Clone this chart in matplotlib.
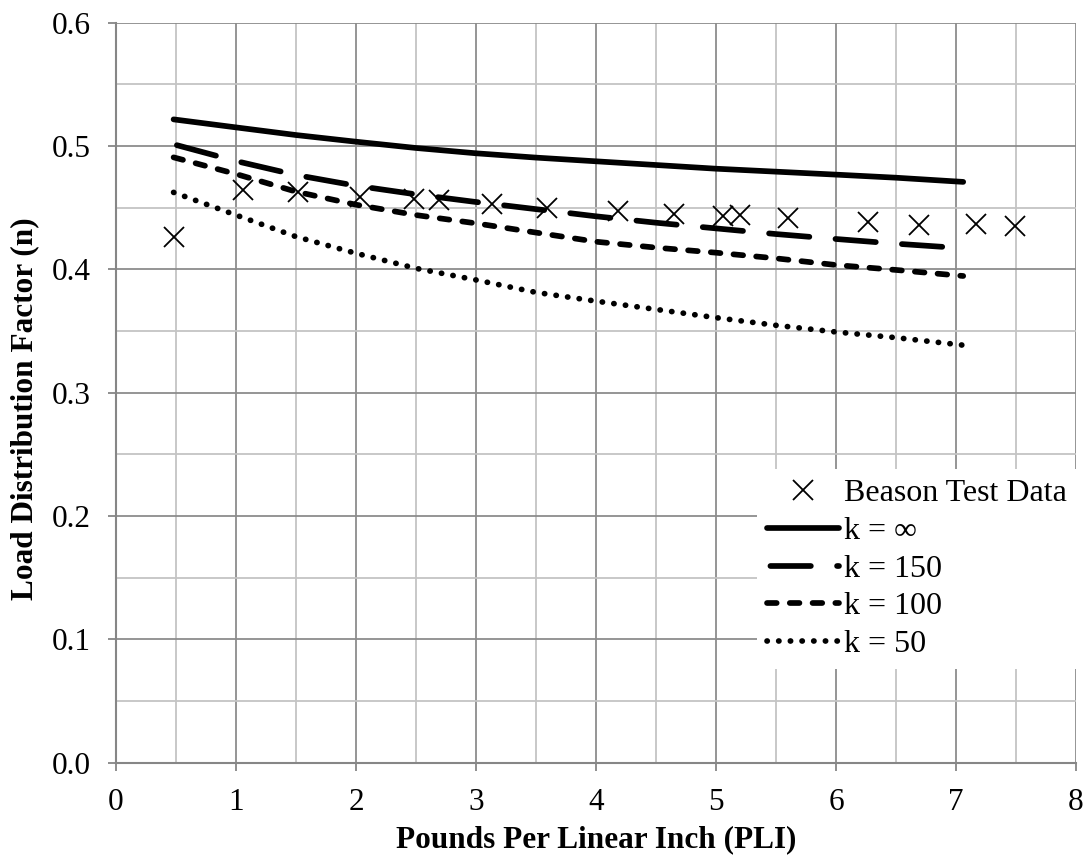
import matplotlib
matplotlib.use("Agg")
import matplotlib.pyplot as plt
from matplotlib.ticker import MultipleLocator

plt.rcParams['font.family'] = ['Liberation Serif', 'DejaVu Serif']

# Beason test data
test_pli = [0.48, 1.06, 1.52, 2.03, 2.48, 2.69, 3.13, 3.59, 4.18, 4.65,
            5.06, 5.20, 5.60, 6.27, 6.69, 7.17, 7.49]
test_n = [0.426, 0.464, 0.463, 0.459, 0.457, 0.456, 0.453, 0.450, 0.447,
          0.445, 0.443, 0.444, 0.442, 0.438, 0.436, 0.4365, 0.435]

# Model curves for different k values
pli = [0.48, 1.0, 1.5, 2.0, 2.5, 3.0, 3.5, 4.0, 4.5, 5.0, 5.5, 6.0, 6.5, 7.06]
n_k_inf = [0.5216, 0.5151, 0.5089, 0.5035, 0.4984, 0.4941, 0.4906, 0.4876,
           0.4846, 0.4816, 0.4792, 0.4768, 0.4743, 0.4709]
n_k150 = [0.5014, 0.4878, 0.4765, 0.4678, 0.4608, 0.4546, 0.4488, 0.4430,
          0.4378, 0.4332, 0.4286, 0.4246, 0.4208, 0.4171]
n_k100 = [0.4908, 0.4773, 0.4630, 0.4524, 0.4440, 0.4373, 0.4298, 0.4224,
          0.4176, 0.4135, 0.4089, 0.4035, 0.3995, 0.3946]
n_k50 = [0.4624, 0.4440, 0.4265, 0.4130, 0.4008, 0.3914, 0.3813, 0.3742,
         0.3675, 0.3608, 0.3546, 0.3492, 0.3446, 0.3385]

labels = ["Beason Test Data", "k = \u221e", "k = 150", "k = 100", "k = 50"]

fig = plt.figure(figsize=(10.91, 8.63), dpi=100)
ax = fig.add_axes([0.10632, 0.11634, 0.87993, 0.85736])

lw = 4.1
ax.plot(test_pli, test_n, linestyle='none', marker='x', markersize=14,
        markeredgewidth=1.3, color='black', label=labels[0], zorder=4)
ax.plot(pli, n_k_inf, color='black', lw=lw, solid_capstyle='round',
        solid_joinstyle='round', label=labels[1], zorder=3)
ax.plot(pli, n_k150, color='black', lw=lw, linestyle=(11.1, (7.1, 4.6)),
        dash_capstyle='round', label=labels[2], zorder=3)
ax.plot(pli, n_k100, color='black', lw=lw, linestyle=(0, (1.7, 2.3)),
        dash_capstyle='round', label=labels[3], zorder=3)
ax.plot(pli, n_k50, color='black', lw=lw, linestyle=(0, (0.05, 2.0)),
        dash_capstyle='round', label=labels[4], zorder=3)

ax.set_xlim(0, 8)
ax.set_ylim(0, 0.6)
ax.xaxis.set_major_locator(MultipleLocator(1))
ax.xaxis.set_minor_locator(MultipleLocator(0.5))
ax.yaxis.set_major_locator(MultipleLocator(0.1))
ax.yaxis.set_minor_locator(MultipleLocator(0.05))
ax.yaxis.set_major_formatter(plt.FuncFormatter(lambda v, p: f"{v:.1f}"))

ax.grid(which='major', color='#8c8c8c', lw=1.3)
ax.grid(which='minor', color='#c4c4c4', lw=1.3)
ax.set_axisbelow(True)

for s in ['top', 'right']:
    ax.spines[s].set_visible(False)
for s in ['left', 'bottom']:
    ax.spines[s].set_color('#868686')
    ax.spines[s].set_linewidth(1.5)

ax.tick_params(which='major', direction='out', length=6, width=1.3,
               color='#868686', labelsize=22.5, pad=12)
ax.tick_params(which='minor', length=0)

ax.set_xlabel("Pounds Per Linear Inch (PLI)", fontsize=22.5,
              fontweight='bold', labelpad=6)
ax.set_ylabel("Load Distribution Factor (n)", fontsize=22.5,
              fontweight='bold', labelpad=9)
ax.yaxis.label.set_y(0.478)

leg = ax.legend(loc='lower right', bbox_to_anchor=(1.0, 0.127), fontsize=23,
                frameon=True, fancybox=False, framealpha=1, edgecolor='white',
                handlelength=2.25, handletextpad=0.15, labelspacing=0.26,
                borderpad=0.3, borderaxespad=0)
leg.get_frame().set_linewidth(0)

fig.savefig("out.png", dpi=100)
